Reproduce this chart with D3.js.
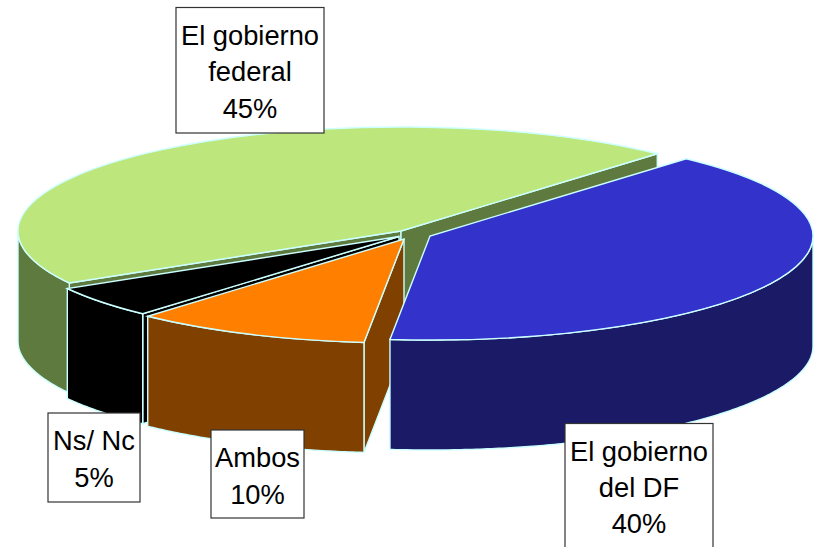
<!DOCTYPE html>
<html>
<head>
<meta charset="utf-8">
<script src="https://d3js.org/d3.v7.min.js"></script>
<style>
  html, body { margin: 0; padding: 0; background: #fff; overflow: hidden; }
  text { font-family: "Liberation Sans", Arial, sans-serif; font-size: 27.3px; fill: #000; }
</style>
</head>
<body>
<div id="chart"></div>
<script>
// slices clockwise from the left edge of the green one
var categories = [["El gobierno", "federal"], ["El gobierno", "del DF"], ["Ambos"], ["Ns/ Nc"]];
var values = [45, 40, 10, 5];
var topColors = ["url(#greenTop)", "#3333cc", "#ff8000", "#000000"];
var sideColors = ["url(#greenSide)", "#1a1a66", "#804000", "#000000"];

var w = 814;
var h = 547;
var rx = 383;
var ry = 104;
var depth = 110;
var rimColor = "#ccffff";
var startAngle = -120 * Math.PI / 180;

// back to front: green, black, orange, blue
var drawOrder = [0, 3, 2, 1];
// exploded centre of every slice
var centres = [[401, 231], [430, 236], [404, 239], [399, 236.5]];
// label boxes: x, y, width, height, first baseline, line height
var boxes = [
  [176, 7.5, 148, 125.5, 45, 36.3],
  [565, 423.5, 148, 140, 461, 36],
  [211, 430, 93, 88, 467, 37],
  [48, 413, 92, 89, 450, 37]
];

var svg = d3.select("#chart").append("svg")
    .attr("width", w)
    .attr("height", h)
    .style("display", "block");

var defs = svg.append("defs");
function dither(id, base, dot) {
  var p = defs.append("pattern")
      .attr("id", id)
      .attr("width", 2)
      .attr("height", 2)
      .attr("patternUnits", "userSpaceOnUse");
  p.append("rect").attr("width", 2).attr("height", 2).attr("fill", base);
  p.append("rect").attr("width", 1).attr("height", 1).attr("fill", dot);
  p.append("rect").attr("x", 1).attr("y", 1).attr("width", 1).attr("height", 1).attr("fill", dot);
}
dither("greenTop", "#badf78", "#c0ee80");
dither("greenSide", "#5d783d", "#607c40");

var pie = d3.pie()
    .sort(null)
    .startAngle(startAngle)
    .endAngle(startAngle + 2 * Math.PI);
var slices = pie(values);

var arc = d3.arc().innerRadius(0).outerRadius(rx);
var line = d3.line();

function rimPoint(c, a, dy) {
  return [c[0] + rx * Math.sin(a), c[1] - ry * Math.cos(a) + dy];
}

// radial cut face from the centre to the rim at angle a
function cutFace(c, a) {
  var e = rimPoint(c, a, 0);
  var e2 = rimPoint(c, a, depth);
  return line([c, e, e2, [c[0], c[1] + depth]]) + "Z";
}

// outer wall, only the part that is on the front half
function wall(c, a0, a1) {
  var turn = 2 * Math.PI;
  // green starts below zero, so its front half sits one turn back
  var lo = a0 < 0 ? Math.PI / 2 - turn : Math.PI / 2;
  var from = Math.max(a0, lo);
  var to = Math.min(a1, lo + Math.PI);
  if (to <= from) return null;
  var angles = d3.range(from, to, 0.01).concat([to]);
  var upper = angles.map(function(a) { return rimPoint(c, a, 0); });
  var lower = angles.slice().reverse().map(function(a) { return rimPoint(c, a, depth); });
  return line(upper.concat(lower)) + "Z";
}

var g = svg.selectAll("g.slice")
    .data(drawOrder.map(function(i) { return slices[i]; }))
    .enter()
    .append("g")
    .attr("class", "slice");

g.each(function(d) {
  var i = d.index;
  var c = centres[i];
  var s = d3.select(this);
  // only cut faces that look towards the viewer
  var faces = [];
  if (Math.sin(d.startAngle) < 0) faces.push(d.startAngle);
  if (Math.sin(d.endAngle) > 0) faces.push(d.endAngle);
  faces.forEach(function(a) {
    s.append("path")
        .attr("d", cutFace(c, a))
        .attr("fill", sideColors[i])
        .attr("stroke", rimColor)
        .attr("stroke-width", 1.4);
  });
  var wallPath = wall(c, d.startAngle, d.endAngle);
  if (wallPath) {
    s.append("path")
        .attr("d", wallPath)
        .attr("fill", sideColors[i])
        .attr("stroke", rimColor)
        .attr("stroke-width", 1.4);
  }
  s.append("path")
      .attr("d", arc(d))
      .attr("transform", "translate(" + c[0] + "," + c[1] + ") scale(1," + (ry / rx) + ")")
      .attr("vector-effect", "non-scaling-stroke")
      .attr("fill", topColors[i])
      .attr("stroke", rimColor)
      .attr("stroke-width", 1.4);
});

var labels = svg.selectAll("g.label")
    .data(values)
    .enter()
    .append("g")
    .attr("class", "label");

labels.append("rect")
    .attr("x", function(d, i) { return boxes[i][0]; })
    .attr("y", function(d, i) { return boxes[i][1]; })
    .attr("width", function(d, i) { return boxes[i][2]; })
    .attr("height", function(d, i) { return boxes[i][3]; })
    .attr("fill", "#fff")
    .attr("stroke", "#333")
    .attr("stroke-width", 1.2);

labels.each(function(d, i) {
  var b = boxes[i];
  var rows = categories[i].concat([d + "%"]);
  d3.select(this).selectAll("text")
      .data(rows)
      .enter()
      .append("text")
      .attr("x", b[0] + b[2] / 2)
      .attr("y", function(t, j) { return b[4] + j * b[5]; })
      .attr("text-anchor", "middle")
      .text(function(t) { return t; });
});
</script>
</body>
</html>
